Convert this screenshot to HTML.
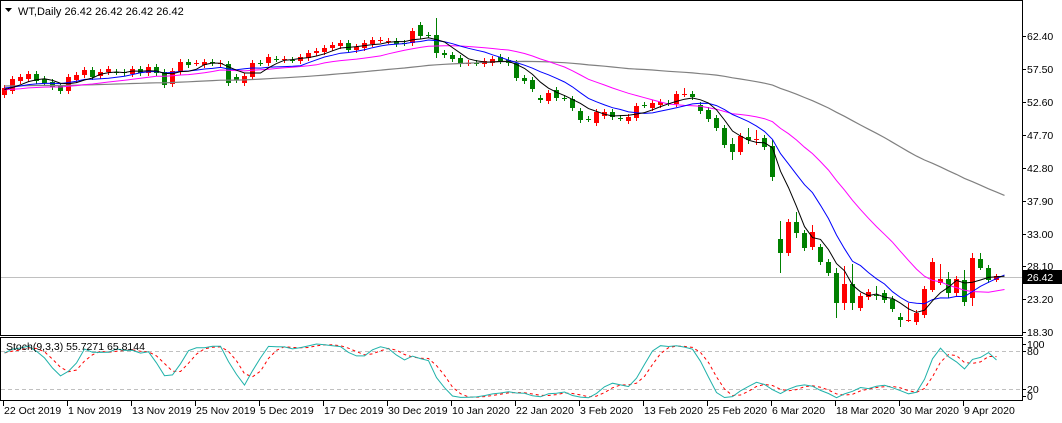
<!DOCTYPE html>
<html><head><meta charset="utf-8"><style>
html,body{margin:0;padding:0;background:#fff;}
svg{display:block;font-family:"Liberation Sans",sans-serif;}
</style></head><body>
<svg id="s" width="1062" height="423" xmlns="http://www.w3.org/2000/svg">
<rect x="0" y="0" width="1062" height="423" fill="#fff"/>
<g id="g"></g>
<rect x="0.5" y="0.5" width="1022" height="335" fill="none" stroke="#000"/>
<rect x="0.5" y="337.5" width="1022" height="63" fill="none" stroke="#000"/>
<text x="18" y="15" font-size="11" fill="#000">WT,Daily  26.42 26.42 26.42 26.42</text>
<path d="M5 8 L12 8 L8.5 12 Z" fill="#000"/>
<text x="6" y="350" font-size="10.5" fill="#000">Stoch(9,3,3) 55.7271 65.8144</text>
<g font-size="10.5" fill="#000">
<text x="1027" y="40">62.40</text>
<text x="1027" y="73">57.50</text>
<text x="1027" y="106">52.60</text>
<text x="1027" y="139">47.70</text>
<text x="1027" y="172">42.80</text>
<text x="1027" y="205">37.90</text>
<text x="1027" y="238">33.00</text>
<text x="1027" y="270">28.10</text>
<text x="1027" y="303">23.20</text>
<text x="1027" y="336">18.30</text>
<text x="1027" y="348">100</text>
<text x="1027" y="355">80</text>
<text x="1027" y="393">20</text>
<text x="1027" y="400">0</text>
</g>
<rect x="1023" y="270" width="39" height="14" fill="#000"/>
<text x="1027" y="281" font-size="10.5" fill="#fff">26.42</text>
</svg>
<script>
var D=[[88,95,'r'],[79,91,'r'],[77,81,'r'],[74,79,'r'],[74,81,'g'],[79,83,'g'],[82,87,'g'],[86,91,'g'],[77,91,'r'],[75,80,'r'],[70,75,'r'],[70,77,'g'],[72,76,'r'],[69,72,'r'],[72,72,'g'],[72,73,'g'],[69,74,'r'],[69,73,'g'],[67,73,'r'],[67,73,'g'],[72,85,'g'],[71,84,'r'],[62,72,'r'],[62,65,'g'],[63,63,'r'],[62,65,'r'],[62,63,'g'],[63,64,'r'],[64,83,'g'],[77,80,'g'],[76,83,'r'],[63,77,'r'],[63,63,'g'],[57,63,'r'],[59,59,'g'],[59,60,'r'],[60,60,'g'],[57,61,'r'],[53,58,'r'],[51,53,'r'],[48,52,'r'],[45,48,'r'],[43,46,'r'],[43,50,'g'],[47,50,'r'],[43,48,'r'],[40,44,'r'],[40,40,'r'],[41,41,'r'],[41,44,'g'],[43,43,'g'],[31,43,'r'],[25,36,'g'],[35,35,'g'],[35,53,'g',18,58],[53,55,'g'],[55,59,'g'],[58,64,'g'],[63,63,'r'],[63,63,'g'],[61,64,'r'],[59,63,'r'],[57,61,'g'],[60,63,'g'],[63,78,'g'],[78,81,'g'],[80,89,'g'],[98,100,'g'],[93,101,'r'],[90,98,'g'],[98,98,'g'],[99,108,'g'],[111,120,'g'],[119,119,'g'],[112,123,'r'],[112,116,'r'],[112,117,'g'],[118,118,'g'],[117,121,'r'],[106,118,'r'],[105,105,'g'],[103,108,'r'],[102,105,'r'],[103,103,'g'],[94,104,'r'],[94,94,'r',88,97],[94,97,'g'],[105,111,'g'],[110,119,'g'],[118,128,'g'],[128,145,'g'],[144,152,'g',138,160],[136,152,'r'],[137,140,'g',128,144],[139,139,'r',130,145],[138,147,'g'],[146,177,'g',140,181],[239,253,'g',221,273],[222,253,'r'],[222,233,'g',212,238],[233,248,'g'],[232,247,'r',225,250],[247,262,'g'],[262,273,'g'],[273,303,'g',268,318],[284,303,'r',266,310],[284,303,'g',264,310],[296,308,'r'],[292,297,'r'],[295,295,'g',286,300],[293,300,'g'],[299,309,'g'],[317,320,'g',313,327],[320,321,'r',303,322],[313,322,'r'],[289,315,'r'],[262,290,'r',258,292],[279,283,'r',264,285],[279,293,'g',272,298],[279,293,'r'],[280,302,'g',270,306],[258,298,'r',253,306],[259,268,'g',253,270],[268,280,'g'],[276,280,'r',274,282]];
var g=document.getElementById('g'),h='';
h+='<line x1="1" y1="277.5" x2="1022" y2="277.5" stroke="#c0c0c0"/>';
var C=[],H=[],L=[];
D.forEach(function(d,i){var x=4+8*i;var t=d[0],b=d[1];var hi=d[3]!=null?d[3]:t-3,lo=d[4]!=null?d[4]:b+3;
var col=d[2]=='r'?'#ff0000':'#008000';C.push(d[2]=='r'?t:b);H.push(hi);L.push(lo);
h+='<line x1="'+(x+.5)+'" y1="'+hi+'" x2="'+(x+.5)+'" y2="'+lo+'" stroke="'+col+'"/>';
h+='<rect x="'+(x-2)+'" y="'+t+'" width="5" height="'+Math.max(1,b-t)+'" fill="'+col+'"/>';});
function ma(n,pre){var r=[];for(var i=0;i<C.length;i++){var s=0;for(var k=i-n+1;k<=i;k++){s+=k<0?pre:C[k];}r.push(s/n);}return r;}
function line(a,col,w,start,ext){var p='';for(var i=start;i<a.length;i++){p+=(p?'L':'M')+(4.5+8*i)+' '+a[i].toFixed(1);}if(ext)p+='L'+(4.5+8*(a.length-1)+ext)+' '+(a[a.length-1]+ext*(a[a.length-1]-a[a.length-2])/8).toFixed(1);return '<path d="'+p+'" fill="none" stroke="'+col+'" stroke-width="'+w+'"/>';}
h+=line(ma(60,86),'#808080',1.2,0,8);
h+=line(ma(20,90),'#ff00ff',1,0,8);
h+=line(ma(10,88),'#0000ff',1,0,8);
h+=line(ma(5,90),'#000000',1,0,8);
var K=[],Dd=[],raw=[];
for(var i=0;i<C.length;i++){var hh=1e9,ll=-1e9;for(var k=Math.max(0,i-8);k<=i;k++){hh=Math.min(hh,H[k]);ll=Math.max(ll,L[k]);}
raw.push([ll-C[i],ll-hh]);}
for(var i=0;i<C.length;i++){var a=0,b=0;for(var k=Math.max(0,i-2);k<=i;k++){a+=raw[k][0];b+=raw[k][1];}K.push(b?100*a/b:50);}
for(var i=0;i<C.length;i++){var s=0,n=0;for(var k=Math.max(0,i-2);k<=i;k++){s+=K[k];n++;}Dd.push(s/n);}
function sy(v){return 351+(80-v)*38/60;}
h+='<line x1="1" y1="351.5" x2="1022" y2="351.5" stroke="#c0c0c0" stroke-dasharray="4,3"/>';
h+='<line x1="1" y1="389.5" x2="1022" y2="389.5" stroke="#c0c0c0" stroke-dasharray="4,3"/>';
var p1='',p2='';for(var i=0;i<C.length;i++){var x=4.5+8*i;p1+=(p1?'L':'M')+x+' '+sy(K[i]).toFixed(1);p2+=(p2?'L':'M')+x+' '+sy(Dd[i]).toFixed(1);}
h+='<path d="'+p2+'" fill="none" stroke="#ff0000" stroke-dasharray="3,3"/>';
h+='<path d="'+p1+'" fill="none" stroke="#20b2aa"/>';
[36,69,102,135,168,201,234,266,299,332,344,351,389,396].forEach(function(y){h+='<line x1="1022" y1="'+(y+.5)+'" x2="1026" y2="'+(y+.5)+'" stroke="#000"/>';});
var lab=['22 Oct 2019','1 Nov 2019','13 Nov 2019','25 Nov 2019','5 Dec 2019','17 Dec 2019','30 Dec 2019','10 Jan 2020','22 Jan 2020','3 Feb 2020','13 Feb 2020','25 Feb 2020','6 Mar 2020','18 Mar 2020','30 Mar 2020','9 Apr 2020'];
lab.forEach(function(t,k){var x=3+64*k;h+='<line x1="'+(x+.5)+'" y1="401" x2="'+(x+.5)+'" y2="406" stroke="#000"/>';h+='<text x="'+(x+1)+'" y="414" font-size="10.5" fill="#000">'+t+'</text>';});
g.innerHTML=h;
</script>
</body></html>
